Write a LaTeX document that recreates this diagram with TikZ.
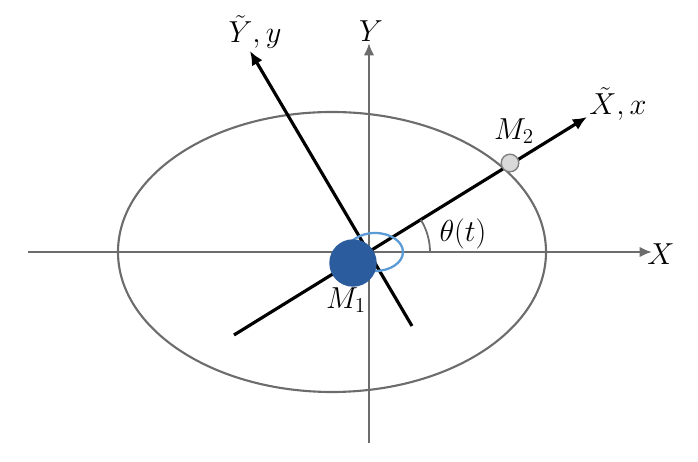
\documentclass[tikz,border=0pt]{standalone}
\usetikzlibrary{arrows.meta}
\definecolor{lblue}{HTML}{5B9BD5}
\definecolor{dblue}{HTML}{2A5C9E}
\begin{document}
\begin{tikzpicture}[x=0.02cm,y=-0.02cm,
  axis/.style={draw=gray!85!black,line width=1.5pt,-{Latex[length=7pt,width=6pt]}},
  rot/.style={draw=black,line width=1.8pt,-{Latex[length=8pt,width=7pt]}},
  lab/.style={font=\LARGE}]
\useasboundingbox (0,0) rectangle (698,462);
\coordinate (O) at (369,252);
\coordinate (xs) at (28,252); \coordinate (xe) at (652,252);
\coordinate (ys) at (369,443); \coordinate (ye) at (369,43);
\draw[gray!85!black,line width=1.2pt] (332,252) ellipse [x radius=214, y radius=140];
\draw[axis] (xs) -- (xe);
\draw[axis] (ys) -- (ye);
\coordinate (a1) at (234,335); \coordinate (a2) at (587,117);
\coordinate (b1) at (412,326); \coordinate (b2) at (250,51);
\draw[rot] (a1) -- (a2);
\draw[rot] (b1) -- (b2);
\draw[gray!85!black,line width=1pt] (O) ++(0:61) arc[start angle=0,end angle=-31.8,radius=61];
\draw[lblue,line width=1.3pt] (375,252) ellipse [x radius=28, y radius=19];
\node[circle,fill=dblue,minimum size=27,inner sep=0] (m1) at (353,263) {};
\node[circle,draw=gray,fill=gray!30,minimum size=10,inner sep=0,line width=0.8pt] (m2) at (510,163) {};
\node[lab] (lx) at (661,254) {$X$};
\node[lab] (ly) at (371,31) {$Y$};
\node[lab] (lxt) at (618,104) {$\tilde X,x$};
\node[lab] (lyt) at (255,32) {$\tilde Y,y$};
\node[lab] (lm2) at (514,131) {$M_2$};
\node[lab] (lm1) at (346,300) {$M_1$};
\node[lab] (lth) at (463,234) {$\theta(t)$};
\end{tikzpicture}
\end{document}
